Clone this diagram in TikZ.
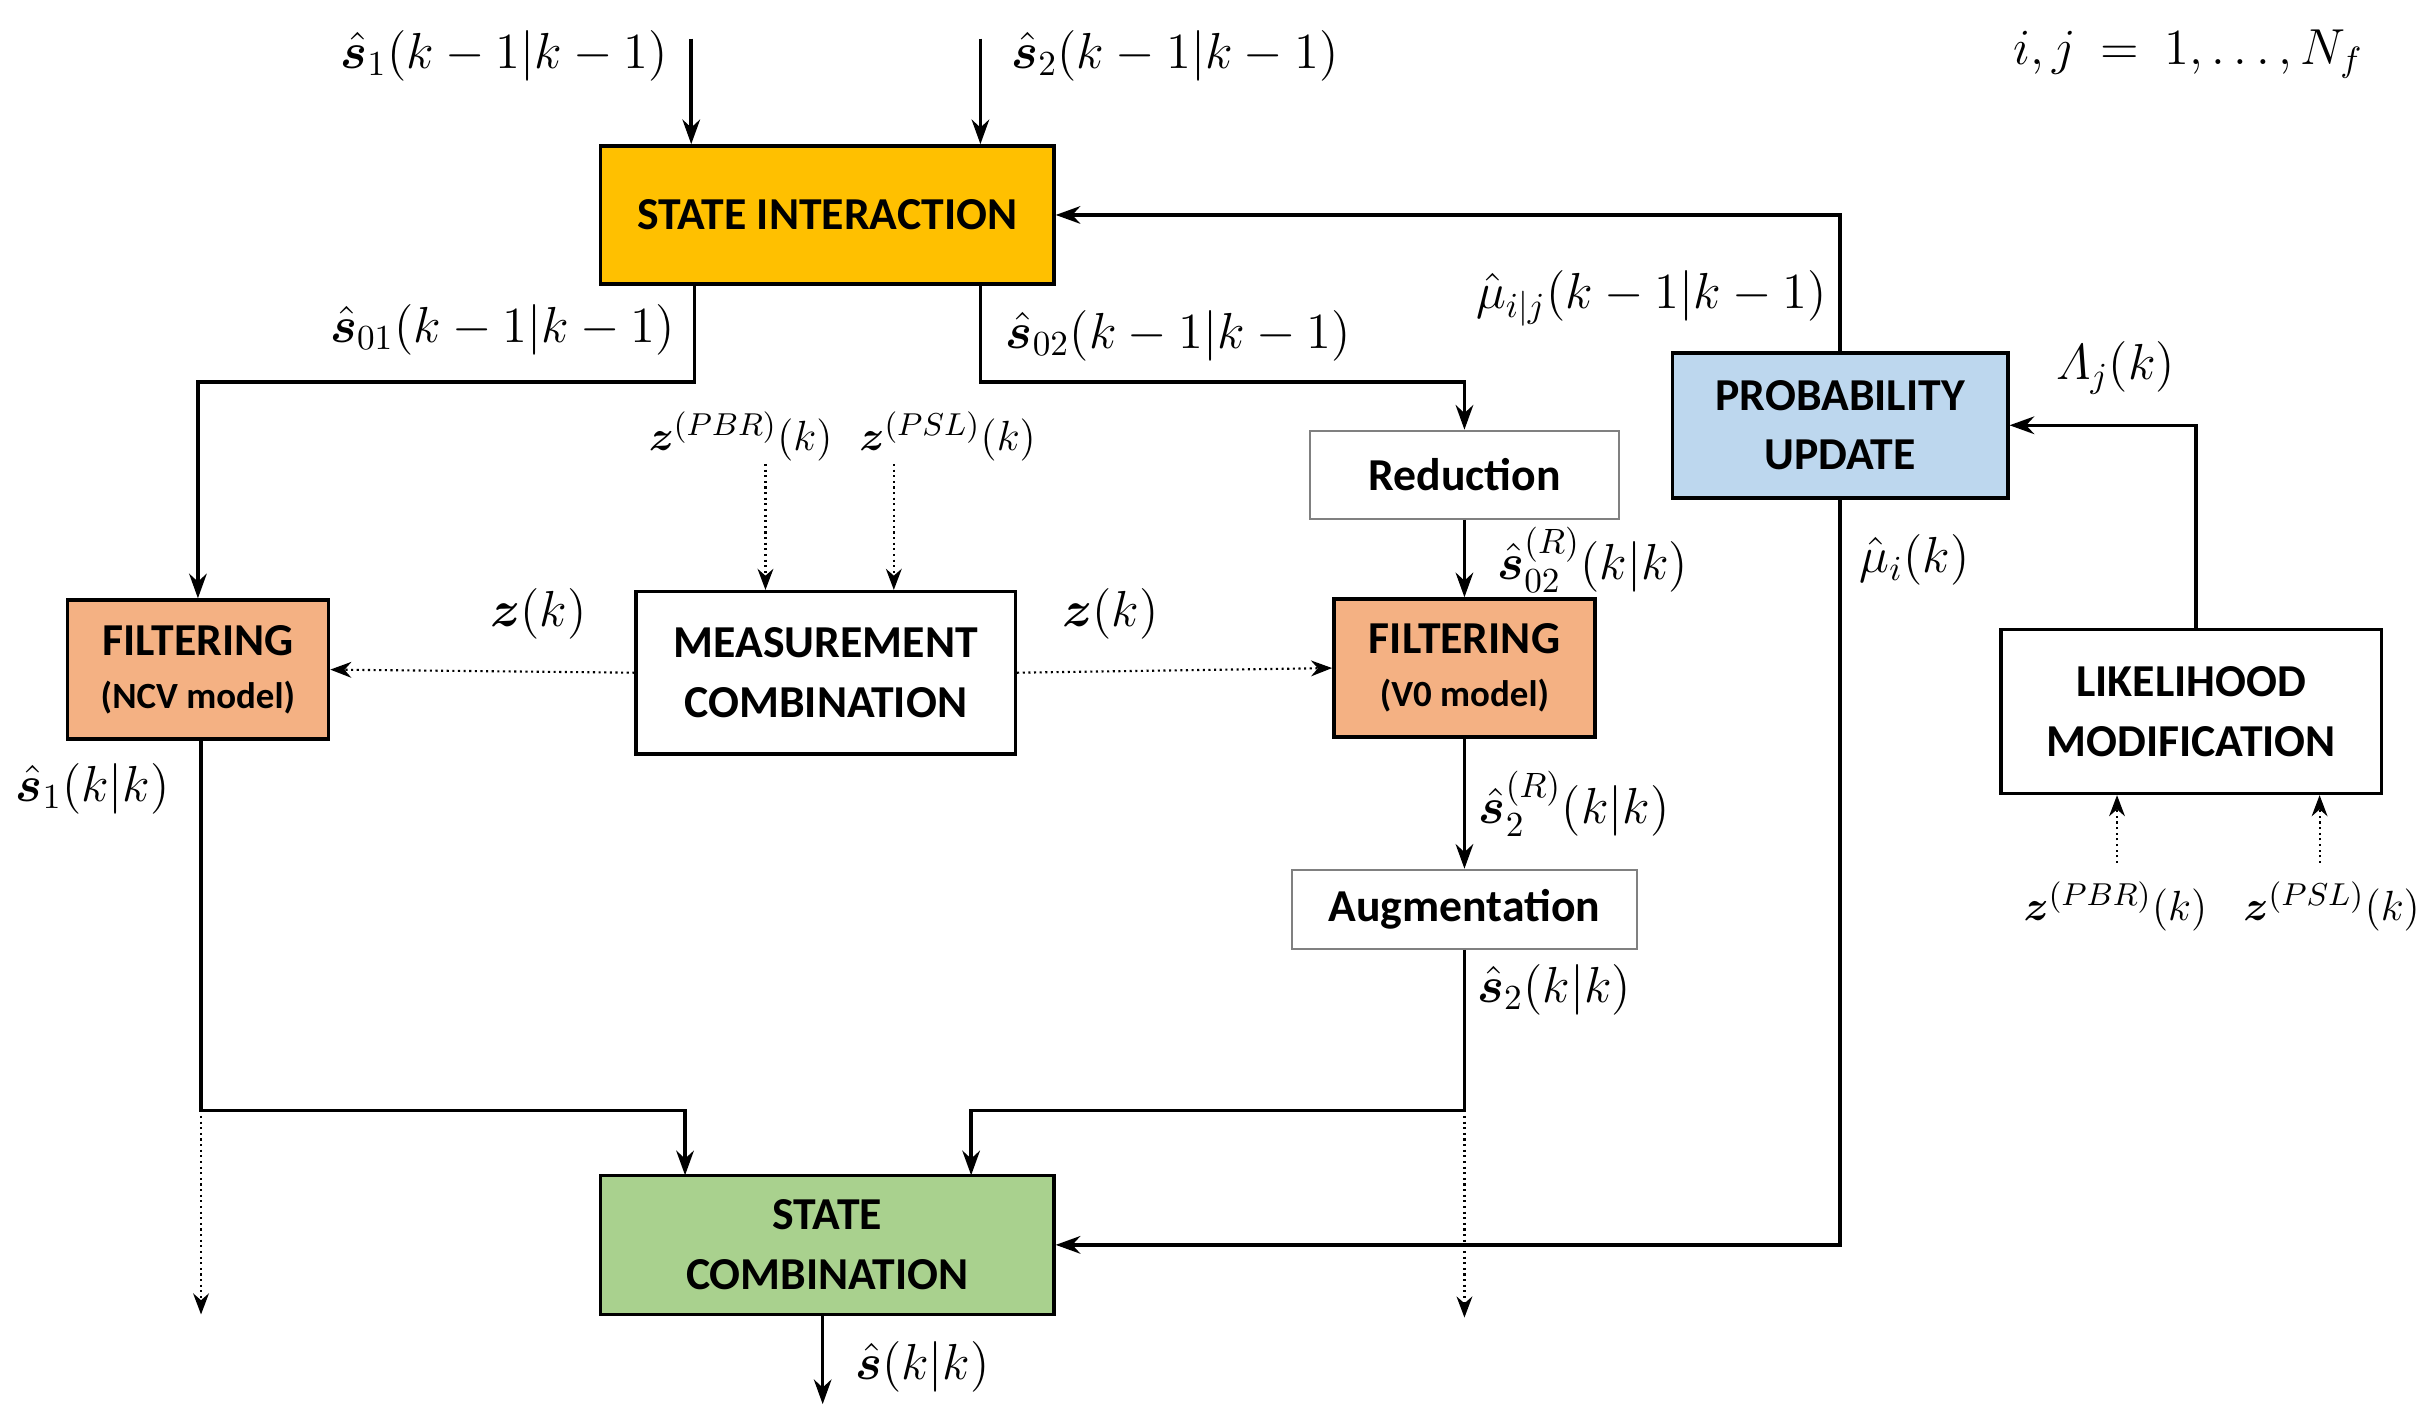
\documentclass[tikz,border=0pt]{standalone}
\usepackage{amsmath,amssymb,bm}
\usepackage{fontspec}
\setmainfont{Carlito}
\usetikzlibrary{arrows.meta}
\begin{document}
\begin{tikzpicture}[x=0.01546cm,y=-0.01546cm,
  box/.style={draw,line width=1pt,align=center,font=\fontsize{13}{17}\selectfont\bfseries},
  ln/.style={line width=1pt,-{Stealth[length=7pt,width=5pt]}},
  dl/.style={densely dotted,line width=0.6pt,-{Stealth[length=6pt,width=4.5pt]}},
  lb/.style={font=\fontsize{14}{16}\selectfont},
  zl/.style={inner sep=1pt,font=\fontsize{12.5}{14}\selectfont}]
\useasboundingbox (0,0) rectangle (1563,914);
\node[box,minimum width=4.53cm,minimum height=1.38cm,fill={rgb,255:red,255;green,192;blue,0}] (si) at (535,139) {STATE INTERACTION};
\node[box,minimum width=3.35cm,minimum height=1.45cm,fill={rgb,255:red,189;green,215;blue,238}] (pu) at (1190,275) {PROBABILITY\\UPDATE};
\node[box,draw=gray,line width=0.6pt,minimum width=3.09cm,minimum height=0.88cm] (red) at (947,307) {Reduction};
\node[box,minimum width=2.61cm,minimum height=1.39cm,fill={rgb,255:red,244;green,177;blue,131}] (fn) at (128,433) {FILTERING\\[-2pt]{\fontsize{10.5}{12}\selectfont (NCV model)}};
\node[box,minimum width=3.79cm,minimum height=1.62cm] (mc) at (534,435) {MEASUREMENT\\COMBINATION};
\node[box,minimum width=2.61cm,minimum height=1.38cm,fill={rgb,255:red,244;green,177;blue,131}] (fv) at (947,432) {FILTERING\\[-2pt]{\fontsize{10.5}{12}\selectfont (V0 model)}};
\node[box,minimum width=3.8cm,minimum height=1.64cm] (lm) at (1417,460) {LIKELIHOOD\\MODIFICATION};
\node[box,draw=gray,line width=0.6pt,minimum width=3.45cm,minimum height=0.79cm] (aug) at (947,588) {Augmentation};
\node[box,minimum width=4.53cm,minimum height=1.39cm,fill={rgb,255:red,169;green,209;blue,142}] (sc) at (535,805) {STATE\\COMBINATION};
\coordinate (i1) at (447,25); \coordinate (i2) at (634,25);
\coordinate (o) at (532,908);
\draw[ln] (i1) -- (i1 |- si.north);
\draw[ln] (i2) -- (i2 |- si.north);
\node[lb,anchor=east] (l1) at (440,36) {$\hat{\bm{s}}_1(k-1|k-1)$};
\node[lb,anchor=west] (l2) at (646,36) {$\hat{\bm{s}}_2(k-1|k-1)$};
\node[lb] (nf) at (1415,35) {$i,j\ =\ 1,\ldots,N_f$};
\draw[ln] (pu.north) |- (si.east);
\node[lb] at (1068,193) {$\hat{\mu}_{i|j}(k-1|k-1)$};
\coordinate (a1) at (449,184); \coordinate (a2) at (634,184);
\draw[ln] (a1) -- (449,247) -| (fn.north);
\draw[ln] (a2) -- (634,247) -| (red.north);
\node[lb] at (325,213) {$\hat{\bm{s}}_{01}(k-1|k-1)$};
\node[lb] at (762,217) {$\hat{\bm{s}}_{02}(k-1|k-1)$};
\draw[ln] (red) -- (fv);
\node[lb] at (1030,362) {$\hat{\bm{s}}_{02}^{(R)}(k|k)$};
\draw[ln] (fv) -- (aug);
\node[lb] at (1018,520) {$\hat{\bm{s}}_{2}^{(R)}(k|k)$};
\coordinate (sc2) at (628,760); \coordinate (sc1) at (443,760);
\draw[ln] (aug.south) -- (947,718) -| (sc2);
\node[lb] at (1005,640) {$\hat{\bm{s}}_2(k|k)$};
\coordinate (d2) at (947,852); \draw[dl] (947,718) -- (d2);
\draw[ln] (130,478) -- (130,718) -| (sc1);
\coordinate (d1) at (130,850); \draw[dl] (130,718) -- (d1);
\node[lb] at (60,510) {$\hat{\bm{s}}_1(k|k)$};
\draw[ln] (pu.south) |- (sc.east);
\node[lb] at (1238,362) {$\hat{\mu}_i(k)$};
\coordinate (lmt) at (1420,407);
\draw[ln] (lmt) |- (pu.east);
\node[lb] at (1368,238) {$\varLambda_j(k)$};
\draw[dl] (mc.west) -- (fn.east);
\draw[dl] (mc.east) -- (fv.west);
\node[lb] at (348,397) {$\bm{z}(k)$};
\node[lb] at (718,397) {$\bm{z}(k)$};
\coordinate (m1) at (495,300); \coordinate (m2) at (578,300);
\draw[dl] (m1) -- (m1 |- mc.north);
\draw[dl] (m2) -- (m2 |- mc.north);
\node[zl,anchor=east] at (541,282) {$\bm{z}^{(PBR)}(k)$};
\node[zl,anchor=west] at (553,282) {$\bm{z}^{(PSL)}(k)$};
\coordinate (p1) at (1369,558); \coordinate (p2) at (1500,558);
\draw[dl] (p1) -- (p1 |- lm.south);
\draw[dl] (p2) -- (p2 |- lm.south);
\node[zl,anchor=east] at (1430,586) {$\bm{z}^{(PBR)}(k)$};
\node[zl,anchor=west] at (1448,586) {$\bm{z}^{(PSL)}(k)$};
\draw[ln] (sc.south -| o) -- (o);
\node[lb,anchor=west] at (545,884) {$\hat{\bm{s}}(k|k)$};
\end{tikzpicture}
\end{document}
